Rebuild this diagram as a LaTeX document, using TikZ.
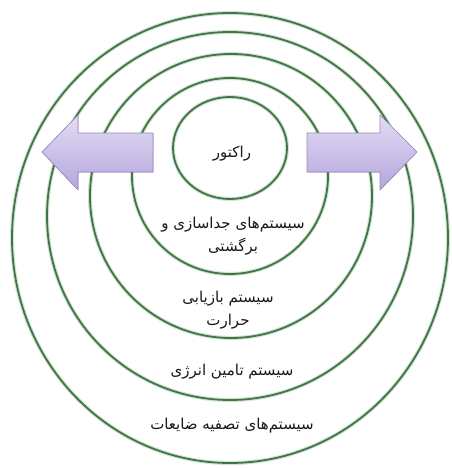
\documentclass[tikz,border=0pt]{standalone}
\usepackage{fontspec}
\newfontfamily\arabicfont[Script=Arabic]{DejaVu Sans}
\TeXXeTstate=1
\usepackage{xcolor}
\definecolor{ringgreen}{RGB}{66, 116, 72}
\definecolor{ringglow}{RGB}{208, 228, 208}
\definecolor{arrowtop}{RGB}{228, 220, 244}
\definecolor{arrowbottom}{RGB}{180, 166, 220}
\definecolor{arrowedge}{RGB}{150, 136, 196}
\usepackage{tikz}
\usetikzlibrary{positioning}

\begin{document}
\begin{tikzpicture}[x=1pt, y=-1pt,
  ringtext/.style={font=\arabicfont\fontsize{15}{23}\selectfont, align=center, text=black!90, inner sep=0pt},
  sidearrow/.style={draw=arrowedge, line width=0.6pt, top color=arrowtop, bottom color=arrowbottom, line join=round}]

  \useasboundingbox (0, 0) rectangle (451, 468);
  \fill[white] (0, 0) rectangle (451, 468);

  % ---------- RINGS: outer to inner ----------
  \foreach \cx/\cy/\rx/\ry in {230/238/218/225, 230/216/183/184, 231/196/141/142, 230/176/98/98, 230/148/57/51} {
    \draw[ringglow, line width=4pt] (\cx, \cy) ellipse [x radius=\rx pt, y radius=\ry pt];
    \draw[ringgreen, line width=1.8pt] (\cx, \cy) ellipse [x radius=\rx pt, y radius=\ry pt];
  }

  % ---------- ARROWS ----------
  \filldraw[sidearrow] (42, 152) -- (78, 115) -- (78, 133) -- (153, 133) -- (153, 172)
    -- (78, 172) -- (78, 190) -- cycle;
  \filldraw[sidearrow] (417, 152) -- (380, 115) -- (380, 133) -- (307, 133) -- (307, 172)
    -- (380, 172) -- (380, 190) -- cycle;

  % ---------- LABELS ----------
  \node[ringtext] (reactor) at (232, 154) {\beginR راکتور\endR};
  \node[ringtext] (separation) at (233, 236) {\beginR سیستم‌های جداسازی و\endR\\\beginR برگشتی\endR};
  \node[ringtext] (heat) at (228, 310) {\beginR سیستم بازیابی\endR\\\beginR حرارت\endR};
  \node[ringtext] (energy) at (232, 372) {\beginR سیستم تامین انرژی\endR};
  \node[ringtext] (waste) at (232, 426) {\beginR سیستم‌های تصفیه ضایعات\endR};

\end{tikzpicture}
\end{document}
